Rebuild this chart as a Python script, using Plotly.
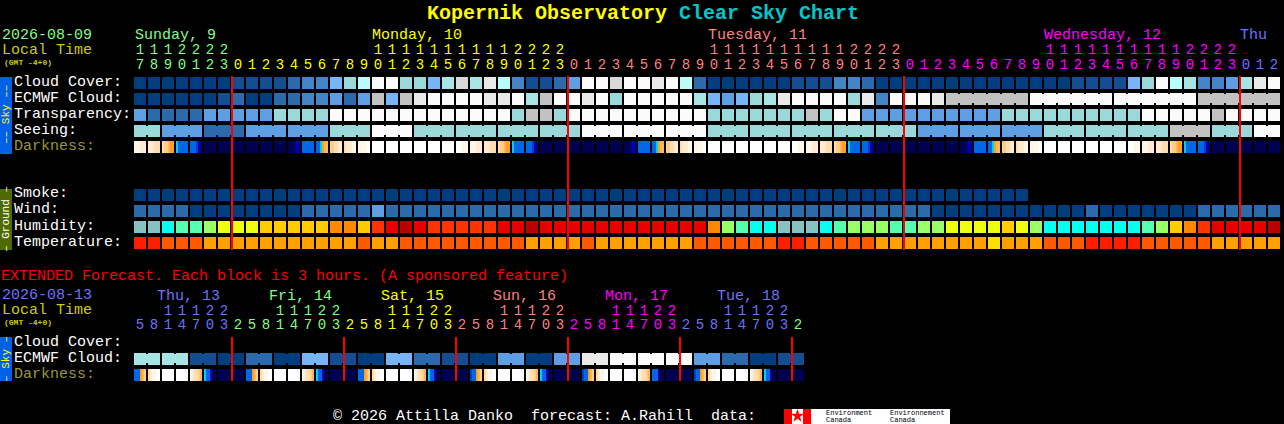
"""Kopernik Observatory Clear Sky Chart drawn as Plotly heatmap rows."""

import plotly.graph_objects as go

WIDTH = 1284
HEIGHT = 424
FONT = "Liberation Mono"

SKY_COLORS = [
    "#003E7E", "#134F90", "#2B6BAB", "#4384C4", "#5E9EE2", "#76B5F7", "#99D9D9",
    "#A5E5E5", "#B8FCFC", "#C2C2C2", "#D8D8D8", "#E9E9E9", "#FBFBFB",
]
HUMIDITY_COLORS = [
    "#87C1C1", "#08FFEE", "#55FFB0", "#99FF66", "#EEFF11",
    "#FFCC00", "#FF8800", "#FF3300", "#E60000", "#BB0000",
]
TEMPERATURE_COLORS = ["#FF1F00", "#FF5900", "#FF9F00", "#FFDF00"]
DARKNESS_COLORS = [
    "#000050", "#000080", "#0000B0", "#0040D0", "#0068E8", "#00CCFF", "#FF9F20",
    "#FFB850", "#FFCC88", "#FFDDB0", "#FFEBD0", "#FFF5E8", "#FFFFFF",
]
DARKNESS_CODES = "0123456789ABC"

GREEN = "#80FF80"
YELLOW = "#FFFF00"
SALMON = "#FF8080"
MAGENTA = "#FF00FF"
PERIWINKLE = "#7070FF"

# hourly forecast, one value per block, indexes into the palettes above
cloud_cover = [
    0, 0, 0, 0, 0, 0, 0, 1, 1, 1,
    1, 2, 3, 3, 5, 6, 8, 12, 12, 6,
    6, 5, 7, 10, 7, 11, 8, 3, 1, 1,
    2, 4, 12, 12, 10, 12, 12, 11, 12, 8,
    2, 0, 0, 0, 0, 0, 0, 1, 1, 1,
    3, 3, 2, 0, 0, 0, 0, 0, 0, 0,
    0, 0, 0, 0, 0, 0, 0, 1, 1, 1,
    1, 5, 6, 12, 8, 7, 3, 3, 4, 7,
    11, 12,
]
ecmwf_cloud = [
    0, 0, 0, 0, 0, 0, 1, 2, 0, 0,
    2, 2, 3, 3, 4, 2, 4, 9, 5, 9,
    11, 12, 12, 12, 12, 11, 11, 12, 7, 9,
    12, 12, 11, 12, 6, 12, 12, 12, 12, 12,
    7, 5, 4, 5, 6, 7, 11, 12, 12, 12,
    12, 6, 11, 3, 12, 12, 12, 11, 9, 9,
    9, 9, 9, 9, 12, 12, 12, 12, 12, 12,
    12, 12, 12, 12, 12, 12, 9, 9, 9, 9,
    9, 9,
]
transparency = [
    4, 2, 2, 2, 2, 4, 4, 4, 4, 4,
    6, 6, 6, 6, 12, 12, 12, 12, 12, 12,
    12, 12, 12, 12, 12, 12, 12, 6, 9, 9,
    6, 12, 12, 12, 12, 12, 12, 12, 12, 12,
    12, 6, 6, 6, 6, 6, 6, 6, 9, 6,
    12, 12, 4, 4, 4, 4, 4, 4, 4, 4,
    4, 4, 6, 6, 6, 6, 6, 6, 6, 6,
    6, 6, 12, 12, 12, 12, 12, 9, 12, 12,
    12, 12,
]
seeing = [
    6, 6, 4, 4, 4, 2, 2, 2, 4, 4,
    4, 4, 4, 4, 6, 6, 6, 12, 12, 12,
    6, 6, 6, 6, 6, 6, 6, 6, 6, 6,
    6, 6, 12, 12, 12, 12, 12, 12, 12, 12,
    12, 6, 6, 6, 6, 6, 6, 6, 6, 6,
    6, 6, 6, 6, 6, 6, 4, 4, 4, 4,
    4, 4, 4, 4, 4, 6, 6, 6, 6, 6,
    6, 6, 6, 6, 9, 9, 9, 6, 6, 6,
    12, 12,
]
darkness = [
    "BBBAAA", "AAA999", "988766", "544444", "444321", "000000", "000000", "000000",
    "000000", "000000", "000000", "000122", "444444", "445677", "8899AA", "9AAABB",
    "BBBBCC", "CCCCCC", "CCCCCC", "CCCCCC", "CCCCCC", "CCCCCC", "CCCCCC", "CCCBBB",
    "BBBAAA", "AAA999", "988766", "544444", "444321", "000000", "000000", "000000",
    "000000", "000000", "000000", "000122", "444444", "445677", "8899AA", "9AAABB",
    "BBBBCC", "CCCCCC", "CCCCCC", "CCCCCC", "CCCCCC", "CCCCCC", "CCCCCC", "CCCBBB",
    "BBBAAA", "AAA999", "988766", "544444", "444321", "000000", "000000", "000000",
    "000000", "000000", "000000", "000122", "444444", "445677", "8899AA", "9AAABB",
    "BBBBCC", "CCCCCC", "CCCCCC", "CCCCCC", "CCCCCC", "CCCCCC", "CCCCCC", "CCCBBB",
    "BBBAAA", "AAA999", "988766", "544444", "444321", "000000", "000000", "000000",
    "000000", "000000",
]
smoke = [
    0, 0, 0, 0, 0, 0, 0, 0, 0, 0,
    0, 0, 0, 0, 0, 0, 0, 0, 0, 0,
    0, 0, 0, 0, 0, 0, 0, 0, 0, 0,
    0, 0, 0, 0, 0, 0, 0, 0, 0, 0,
    0, 0, 0, 0, 0, 0, 0, 0, 0, 0,
    0, 0, 0, 0, 0, 0, 0, 0, 0, 0,
    0, 0, 0, 0,
]
wind = [
    2, 2, 2, 2, 0, 0, 0, 0, 0, 0,
    0, 0, 2, 2, 2, 2, 2, 4, 2, 2,
    2, 2, 2, 2, 2, 2, 2, 2, 2, 2,
    2, 2, 2, 2, 2, 2, 2, 2, 2, 2,
    2, 2, 2, 2, 2, 2, 2, 2, 2, 2,
    2, 2, 2, 2, 2, 2, 2, 0, 0, 0,
    0, 0, 0, 0, 0, 0, 0, 0, 2, 0,
    0, 0, 0, 0, 0, 0, 2, 2, 2, 2,
    2, 2,
]
humidity = [
    0, 0, 1, 2, 2, 3, 4, 4, 4, 5,
    5, 5, 5, 5, 6, 6, 5, 7, 8, 9,
    8, 7, 7, 7, 7, 7, 8, 8, 9, 8,
    8, 8, 8, 8, 8, 8, 8, 8, 8, 8,
    8, 6, 3, 2, 1, 1, 0, 0, 0, 1,
    2, 3, 3, 3, 2, 2, 3, 3, 4, 4,
    4, 4, 5, 4, 3, 1, 1, 1, 1, 1,
    1, 1, 2, 3, 5, 6, 7, 8, 8, 8,
    8, 9,
]
temperature = [
    0, 0, 1, 1, 1, 2, 2, 2, 2, 2,
    2, 2, 2, 2, 2, 2, 1, 2, 2, 1,
    1, 1, 1, 1, 1, 1, 1, 1, 2, 2,
    2, 2, 1, 2, 2, 2, 2, 2, 2, 2,
    1, 1, 1, 1, 1, 1, 0, 0, 1, 1,
    1, 1, 1, 2, 2, 2, 2, 2, 2, 2,
    2, 3, 2, 2, 2, 1, 1, 1, 0, 0,
    0, 0, 1, 1, 1, 1, 1, 2, 2, 2,
    2, 2,
]

# extended forecast, one value per 3 hour block
extended_ecmwf = [
    7, 7, 7, 7, 1, 1, 0, 0, 2, 2, 0, 0,
    5, 5, 1, 1, 0, 0, 5, 5, 2, 2, 1, 1,
    0, 0, 4, 4, 0, 0, 4, 4, 11, 11, 12, 12,
    12, 12, 12, 12, 4, 4, 2, 2, 0, 0, 1, 1,
]
extended_darkness = [
    "444678", "9ABBCC", "CCCCCC", "CCCCCC", "BA9987", "544200", "000000", "000000",
    "444678", "9ABBCC", "CCCCCC", "CCCCCC", "BA9987", "544200", "000000", "000000",
    "444678", "9ABBCC", "CCCCCC", "CCCCCC", "BA9987", "544200", "000000", "000000",
    "344678", "9ABBCC", "CCCCCC", "CCCCCC", "BA9987", "544200", "000000", "000000",
    "344678", "9ABBCC", "CCCCCC", "CCCCCC", "BA9987", "444100", "000000", "000000",
    "344678", "9ABBCC", "CCCCCC", "CCCCCC", "BA9987", "544100", "000000", "000000",
]

hours = [
    17, 18, 19, 20, 21, 22, 23,
    0, 1, 2, 3, 4, 5, 6, 7, 8, 9, 10, 11, 12, 13, 14, 15, 16, 17, 18, 19, 20, 21, 22, 23,
    0, 1, 2, 3, 4, 5, 6, 7, 8, 9, 10, 11, 12, 13, 14, 15, 16, 17, 18, 19, 20, 21, 22, 23,
    0, 1, 2, 3, 4, 5, 6, 7, 8, 9, 10, 11, 12, 13, 14, 15, 16, 17, 18, 19, 20, 21, 22, 23,
    0, 1, 2,
]
extended_hours = [
    5, 8, 11, 14, 17, 20, 23,
    2, 5, 8, 11, 14, 17, 20, 23,
    2, 5, 8, 11, 14, 17, 20, 23,
    2, 5, 8, 11, 14, 17, 20, 23,
    2, 5, 8, 11, 14, 17, 20, 23,
    2, 5, 8, 11, 14, 17, 20, 23,
    2,
]
hour_colors = (
    [GREEN] * 7 + [YELLOW] * 24 + [SALMON] * 24 + [MAGENTA] * 24 + [PERIWINKLE] * 3
)
extended_hour_colors = (
    [PERIWINKLE] * 7 + [GREEN] * 8 + [YELLOW] * 8 + [SALMON] * 8
    + [MAGENTA] * 8 + [PERIWINKLE] * 8 + [GREEN]
)
midnights = [7, 31, 55, 79]
extended_midnights = [7, 15, 23, 31, 39, 47]

day_labels = ["Sunday, 9", "Monday, 10", "Tuesday, 11", "Wednesday, 12", "Thu"]
day_label_x = [134, 371, 707, 1043, 1239]
day_label_colors = [GREEN, YELLOW, SALMON, MAGENTA, PERIWINKLE]
extended_day_labels = ["Thu, 13", "Fri, 14", "Sat, 15", "Sun, 16", "Mon, 17", "Tue, 18"]
extended_day_x = [156, 268, 380, 492, 604, 716]
extended_day_colors = [PERIWINKLE, GREEN, YELLOW, SALMON, MAGENTA, PERIWINKLE]

# rows are 16 px apart, first block row centred on y = 83 px
ROW_CLOUD, ROW_ECMWF, ROW_TRANSPARENCY, ROW_SEEING, ROW_DARKNESS = 0, 1, 2, 3, 4
ROW_SMOKE, ROW_WIND, ROW_HUMIDITY, ROW_TEMPERATURE = 7, 8, 9, 10
ROW_EXT_CLOUD, ROW_EXT_ECMWF, ROW_EXT_DARKNESS = 16.25, 17.25, 18.25


def stepped(colors):
    """Colorscale with one flat band per palette entry."""
    n = len(colors)
    scale = []
    for i, color in enumerate(colors):
        scale.append([i / n, color])
        scale.append([(i + 1) / n, color])
    return scale


def px_x(px):
    return (px - 140) / 14


def px_y(px):
    return (px - 83) / 16


def add_row(fig, values, row, colors, x0=0, dx=1, xgap=2, ygap=4):
    fig.add_trace(
        go.Heatmap(
            z=[values],
            x0=x0,
            dx=dx,
            y0=row,
            dy=1,
            colorscale=stepped(colors),
            zmin=-0.5,
            zmax=len(colors) - 0.5,
            xgap=xgap,
            ygap=ygap,
            showscale=False,
            hoverinfo="skip",
        )
    )


def add_joins(fig, values, row, joined):
    """Narrow links between blocks that belong to one forecast period."""
    links = [values[i] if i in joined else None for i in range(len(values) - 1)]
    add_row(fig, links, row, SKY_COLORS, x0=0.5, xgap=12, ygap=7)


def add_darkness(fig, blocks, row):
    """Each block holds six 2 px steps, the seventh step is the gap."""
    cells = []
    for block in blocks:
        cells.extend(DARKNESS_CODES.index(code) for code in block)
        cells.append(None)
    add_row(fig, cells, row, DARKNESS_COLORS, x0=-5 / 14, dx=1 / 7, xgap=0)


def add_digits(fig, labels, colors, y_px, size=14):
    fig.add_trace(
        go.Scatter(
            x=list(range(len(labels))),
            y=[px_y(y_px)] * len(labels),
            mode="text",
            text=labels,
            textposition="middle center",
            textfont={"family": FONT, "size": size, "color": colors},
            hoverinfo="skip",
            showlegend=False,
        )
    )


def label(text, x, y, color="#FFFFFF", size=15, weight="normal", anchor="left", angle=0):
    return {
        "text": text,
        "xref": "paper",
        "yref": "paper",
        "x": x / WIDTH,
        "y": 1 - y / HEIGHT,
        "xanchor": anchor,
        "yanchor": "middle",
        "showarrow": False,
        "textangle": angle,
        "borderpad": 0,
        "font": {"family": FONT, "size": size, "color": color, "weight": weight},
    }


def box(x0, y0, x1, y1, color):
    return {
        "type": "rect",
        "xref": "paper",
        "yref": "paper",
        "x0": x0 / WIDTH,
        "x1": x1 / WIDTH,
        "y0": 1 - y0 / HEIGHT,
        "y1": 1 - y1 / HEIGHT,
        "fillcolor": color,
        "line": {"width": 0},
        "layer": "below",
    }


def red_line(col, top, bottom):
    return {
        "type": "line",
        "xref": "x",
        "yref": "y",
        "x0": col - 6 / 14,
        "x1": col - 6 / 14,
        "y0": px_y(top),
        "y1": px_y(bottom),
        "line": {"color": "#FF0000", "width": 2},
    }


fig = go.Figure()

add_row(fig, cloud_cover, ROW_CLOUD, SKY_COLORS)
add_row(fig, ecmwf_cloud, ROW_ECMWF, SKY_COLORS)
add_joins(fig, ecmwf_cloud, ROW_ECMWF, [i for i in range(58, 81) if i + 1 not in (64, 70, 76)])
add_row(fig, transparency, ROW_TRANSPARENCY, SKY_COLORS)
add_row(fig, seeing, ROW_SEEING, SKY_COLORS)
add_joins(fig, seeing, ROW_SEEING, [i for i in range(81) if (i + 1) % 3 != 2])
add_darkness(fig, darkness, ROW_DARKNESS)
add_row(fig, smoke, ROW_SMOKE, SKY_COLORS)
add_row(fig, wind, ROW_WIND, SKY_COLORS)
add_row(fig, humidity, ROW_HUMIDITY, HUMIDITY_COLORS)
add_row(fig, temperature, ROW_TEMPERATURE, TEMPERATURE_COLORS)

add_row(fig, extended_ecmwf, ROW_EXT_ECMWF, SKY_COLORS)
add_joins(fig, extended_ecmwf, ROW_EXT_ECMWF, list(range(0, 47, 2)))
add_darkness(fig, extended_darkness, ROW_EXT_DARKNESS)

add_digits(fig, [str(h // 10) if h >= 10 else "" for h in hours], hour_colors, 50)
add_digits(fig, [str(h % 10) for h in hours], hour_colors, 65)
add_digits(fig, [str(h // 10) if h >= 10 else "" for h in extended_hours], extended_hour_colors, 311)
add_digits(fig, [str(h % 10) for h in extended_hours], extended_hour_colors, 325)

# maple leaf on the flag
fig.add_trace(
    go.Scatter(
        x=[px_x(797.5)],
        y=[px_y(416)],
        mode="markers",
        marker={"symbol": "star", "size": 10, "color": "#FF0000"},
        hoverinfo="skip",
        showlegend=False,
    )
)

annotations = [
    label(
        'Kopernik Observatory <span style="color:#00C8C8">Clear Sky Chart</span>',
        426, 13, YELLOW, 20, "bold",
    ),
    label("2026-08-09", 1, 36, GREEN),
    label("Local Time", 1, 50, "#CCCC00"),
    label("(GMT -4+0)", 3, 62, "#CCCC00", 8, "bold"),
    label("EXTENDED Forecast. Each block is 3 hours. (A sponsored feature)", 0, 276, "#FF0000"),
    label("2026-08-13", 1, 295, PERIWINKLE),
    label("Local Time", 1, 310, "#CCCC00"),
    label("(GMT -4+0)", 3, 322, "#CCCC00", 8, "bold"),
    label("\u00a9 2026 Attilla Danko\u00a0\u00a0forecast: A.Rahill\u00a0\u00a0data:", 332, 416),
    label("Environment", 825, 412.5, "#000000", 7),
    label("Canada", 825, 419.5, "#000000", 7),
    label("Environnement", 889, 412.5, "#000000", 7),
    label("Canada", 889, 419.5, "#000000", 7),
    label("\u2013\u2013 Sky \u2013\u2013", 6, 115, YELLOW, 11, anchor="center", angle=-90),
    label("\u2013 Ground \u2013", 6, 219, "#FFFFFF", 11, anchor="center", angle=-90),
    label("\u2013 Sky \u2013", 6, 359, YELLOW, 11, anchor="center", angle=-90),
]
for text, x, color in zip(day_labels, day_label_x, day_label_colors):
    annotations.append(label(text, x, 36, color))
for text, x, color in zip(extended_day_labels, extended_day_x, extended_day_colors):
    annotations.append(label(text, x, 296, color))
for text, row in [
    ("Cloud Cover:", ROW_CLOUD),
    ("ECMWF Cloud:", ROW_ECMWF),
    ("Transparency:", ROW_TRANSPARENCY),
    ("Seeing:", ROW_SEEING),
    ("Smoke:", ROW_SMOKE),
    ("Wind:", ROW_WIND),
    ("Humidity:", ROW_HUMIDITY),
    ("Temperature:", ROW_TEMPERATURE),
    ("Cloud Cover:", ROW_EXT_CLOUD),
    ("ECMWF Cloud:", ROW_EXT_ECMWF),
]:
    annotations.append(label(text, 13, 82 + row * 16))
annotations.append(label("Darkness:", 13, 82 + ROW_DARKNESS * 16, "#999933"))
annotations.append(label("Darkness:", 13, 82 + ROW_EXT_DARKNESS * 16, "#999933"))

shapes = [
    box(0, 77, 12, 154, "#0060E6"),
    box(0, 189, 12, 250, "#4F6A00"),
    box(0, 337, 12, 381, "#0060E6"),
    box(784, 409, 950, 424, "#FFFFFF"),
    box(784, 409, 792, 424, "#FF0000"),
    box(803, 409, 811, 424, "#FF0000"),
]
shapes += [red_line(col, 76, 250) for col in midnights]
shapes += [red_line(col, 337, 381) for col in extended_midnights]

fig.update_layout(
    width=WIDTH,
    height=HEIGHT,
    margin={"t": 0, "b": 0, "l": 0, "r": 0, "pad": 0},
    paper_bgcolor="#000000",
    plot_bgcolor="rgba(0,0,0,0)",
    showlegend=False,
    annotations=annotations,
    shapes=shapes,
    xaxis={"visible": False, "range": [px_x(0), px_x(WIDTH)], "fixedrange": True},
    yaxis={"visible": False, "range": [px_y(HEIGHT), px_y(0)], "fixedrange": True},
)

# the browser's default body margin would shift the pixel grid
fig.write_html(
    "out.html",
    post_script="document.body.style.margin='0';document.body.style.background='#000';"
    "document.body.style.overflow='hidden';",
    config={"displayModeBar": False},
)
